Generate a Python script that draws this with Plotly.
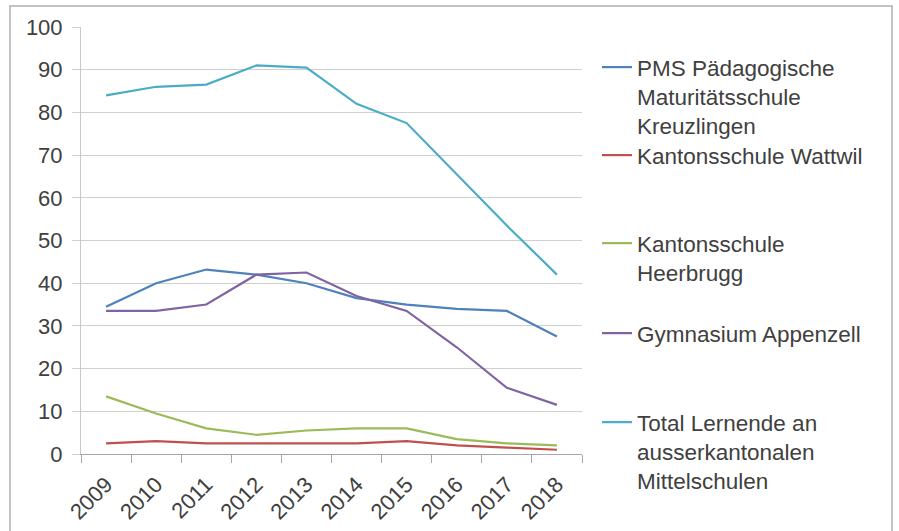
import plotly.graph_objects as go

years = ["2009", "2010", "2011", "2012", "2013", "2014", "2015", "2016", "2017", "2018"]
pms = [34.5, 40, 43.2, 42, 40, 36.5, 35, 34, 33.5, 27.5]
wattwil = [2.5, 3, 2.5, 2.5, 2.5, 2.5, 3, 2, 1.5, 1]
heerbrugg = [13.5, 9.5, 6, 4.5, 5.5, 6, 6, 3.5, 2.5, 2]
appenzell = [33.5, 33.5, 35, 42, 42.5, 37, 33.5, 25, 15.5, 11.5]
total = [84, 86, 86.5, 91, 90.5, 82, 77.5, 65.5, 53.5, 42]

names = [
    "PMS Pädagogische<br>Maturitätsschule<br>Kreuzlingen",
    "Kantonsschule Wattwil",
    "Kantonsschule<br>Heerbrugg",
    "Gymnasium Appenzell",
    "Total Lernende an<br>ausserkantonalen<br>Mittelschulen",
]
series = [pms, wattwil, heerbrugg, appenzell, total]
colors = ["#4F81BD", "#C0504D", "#9BBB59", "#8064A2", "#4BACC6"]

W, H = 899, 531
L, R, T, B = 81, 317, 27, 77
pw, ph = W - L - R, H - T - B

def px2x(px):
    return (px - L) / pw

def py2y(py):
    return (H - B - py) / ph

legend_ids = ["legend", "legend2", "legend3", "legend4", "legend5"]
legend_tops = [46, 134, 222, 312, 401]

fig = go.Figure()
for i, (nm, vals, col) in enumerate(zip(names, series, colors)):
    fig.add_trace(go.Scatter(
        x=years, y=vals, name=nm, mode="lines",
        line=dict(color=col, width=2.2),
        legend=legend_ids[i],
    ))

font_col = "#404040"
layout_legends = {}
for i, lid in enumerate(legend_ids):
    layout_legends[lid] = dict(
        x=px2x(597), y=py2y(legend_tops[i]), xanchor="left", yanchor="top",
        font=dict(family="Liberation Sans, Arial, sans-serif", size=22.5, color=font_col),
        bgcolor="rgba(0,0,0,0)", valign="top", itemwidth=30,
    )

fig.update_layout(
    width=W, height=H,
    margin=dict(l=L, r=R, t=T, b=B, autoexpand=False),
    paper_bgcolor="white", plot_bgcolor="white",
    font=dict(family="Liberation Sans, Arial, sans-serif", size=22, color=font_col),
    showlegend=True,
    **layout_legends,
    shapes=[dict(
        type="rect", xref="paper", yref="paper",
        x0=px2x(10), x1=px2x(892), y0=py2y(560), y1=py2y(6),
        line=dict(color="#B0B0B0", width=1.5), fillcolor="rgba(0,0,0,0)", layer="below",
    )],
)
fig.update_xaxes(
    type="category", range=[-0.5, 9.5], tickangle=-45, showgrid=False,
    showline=True, linecolor="#A6A6A6", linewidth=1,
    ticks="outside", tickson="boundaries", ticklen=8, tickcolor="#A6A6A6",
    ticklabelstandoff=8,
    tickfont=dict(size=22, color=font_col),
)
fig.update_yaxes(
    range=[0, 100], dtick=10, showgrid=True, gridcolor="#D0D0D0", gridwidth=1,
    showline=True, linecolor="#C8C8C8", linewidth=1,
    ticks="outside", ticklen=8, tickcolor="#D0D0D0",
    ticklabelstandoff=5,
    zeroline=False, tickfont=dict(size=22, color=font_col),
)

fig.write_html("out.html", config={"displayModeBar": False},
               post_script="document.body.style.margin='0';")
